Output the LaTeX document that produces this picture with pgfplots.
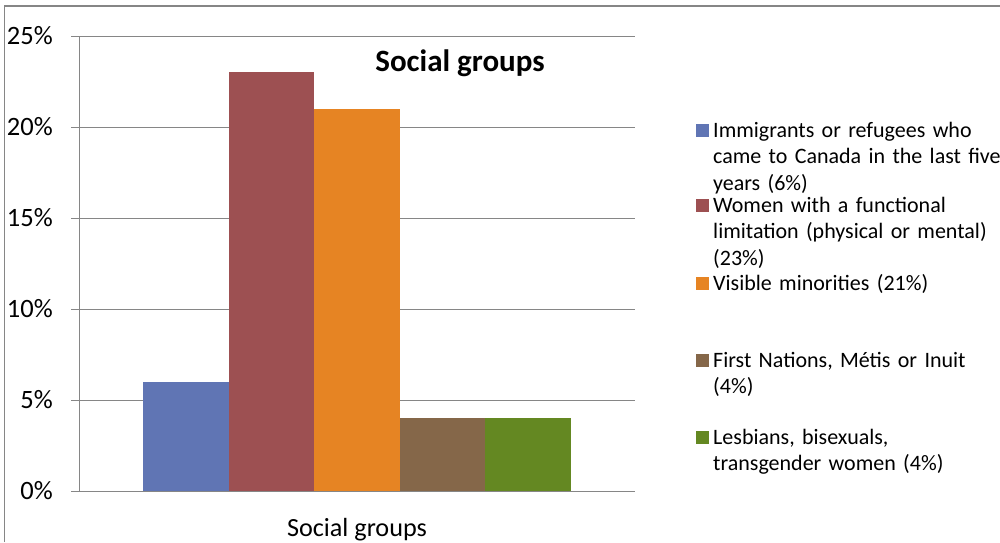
\documentclass[border=0pt]{standalone}
\usepackage{pgfplots}
\pgfplotsset{compat=1.18}
\usepackage{fontspec}
\setmainfont{Carlito}
\definecolor{cblue}{RGB}{96,117,180}
\definecolor{cred}{RGB}{157,80,82}
\definecolor{corange}{RGB}{230,132,35}
\definecolor{cbrown}{RGB}{133,103,73}
\definecolor{cgreen}{RGB}{100,136,34}
\definecolor{gridgray}{RGB}{134,134,134}
\begin{document}
\begin{tikzpicture}[x=1pt,y=1pt]
\useasboundingbox (0,0) rectangle (1000,542);
\draw[gridgray, line width=1.4pt] (4.5,0) -- (4.5,536) -- (1000,536);
\begin{axis}[
  at={(79pt,51pt)}, anchor=south west,
  scale only axis, width=556pt, height=455pt,
  xmin=-3.25, xmax=3.25, ymin=0, ymax=25,
  ybar=0pt, bar width=1,
  axis x line*=bottom, axis y line*=left,
  axis line style={gridgray, line width=1pt},
  xtick={0}, xticklabels={Social groups},
  x tick label style={font=\fontsize{26.2}{30}\selectfont, anchor=base, inner sep=0pt},
  xticklabel shift=37pt,
  xtick style={draw=none},
  extra x ticks={-3.25,3.25}, extra x tick labels={},
  extra x tick style={grid=none, major tick length=8pt, tick align=outside, tick style={gridgray, line width=1pt, draw=gridgray}},
  ytick={0,5,10,15,20,25},
  yticklabel={\pgfmathprintnumber{\tick}\%},
  /pgf/number format/assume math mode=true,
  y tick label style={font=\fontsize{26.5}{30}\selectfont, inner sep=0pt, anchor=east},
  yticklabel shift=18pt,
  ytick style={gridgray, line width=1pt},
  tick align=outside, major tick length=8pt,
  ymajorgrids, grid style={gridgray, line width=1pt},
]
\addplot[fill=cblue, draw=none] coordinates {(0,6)};
\addplot[fill=cred, draw=none] coordinates {(0,23)};
\addplot[fill=corange, draw=none] coordinates {(0,21)};
\addplot[fill=cbrown, draw=none] coordinates {(0,4)};
\addplot[fill=cgreen, draw=none] coordinates {(0,4)};
\end{axis}
\node[anchor=base, inner sep=0pt, font=\bfseries\fontsize{31}{36}\selectfont] at (460,470) {Social groups};
\begin{scope}[every node/.style={anchor=base west, inner sep=0pt, text width=300pt, align=left, font=\fontsize{22}{26.7}\selectfont}]
\fill[cblue] (696,405) rectangle (709,418);
\node at (713,405) {Immigrants or refugees who\\came to Canada in the last five\\years (6\%)};
\fill[cred] (696,330) rectangle (709,343);
\node at (713,330) {Women with a functional\\limitation (physical or mental)\\(23\%)};
\fill[corange] (696,252) rectangle (709,265);
\node at (713,252) {Visible minorities (21\%)};
\fill[cbrown] (696,175) rectangle (709,188);
\node at (713,175) {First Nations, Métis or Inuit\\(4\%)};
\fill[cgreen] (696,98) rectangle (709,111);
\node at (713,98) {Lesbians, bisexuals,\\transgender women (4\%)};
\end{scope}
\end{tikzpicture}
\end{document}
